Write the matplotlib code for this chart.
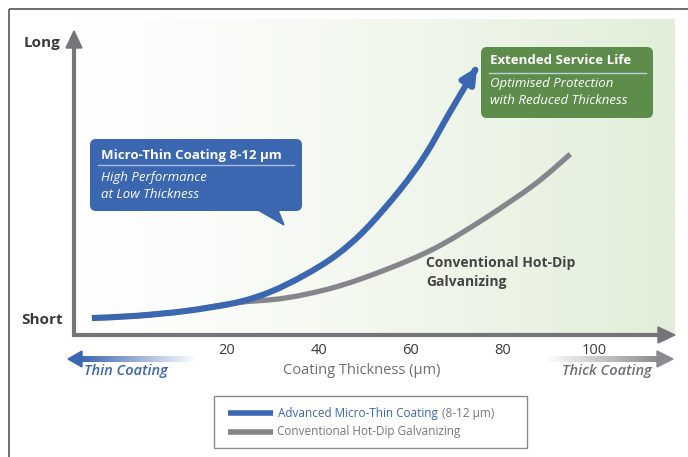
import matplotlib
matplotlib.use("Agg")
import matplotlib.pyplot as plt
import numpy as np
from matplotlib.patches import FancyBboxPatch, Polygon, Rectangle, FancyArrowPatch, PathPatch
from matplotlib.path import Path
from matplotlib.colors import to_rgb

plt.rcParams['font.family'] = ['Open Sans', 'DejaVu Sans']

# data (x: coating thickness in µm, y: relative service life)
blue_x = [-9.4, 0.0, 10.9, 21.8, 29.4, 36.6, 43.6, 50.1, 57.7, 63.2, 68.6, 73.0, 74.5]
blue_y = [5.6, 6.3, 7.9, 10.6, 14.2, 19.5, 26.1, 34.7, 47.9, 59.4, 73.6, 84.8, 88.4]
gray_x = [-9.4, 0.0, 10.9, 21.8, 32.7, 43.6, 54.5, 65.4, 76.3, 87.1, 94.8]
gray_y = [5.6, 6.3, 7.9, 10.6, 12.2, 15.8, 21.5, 28.7, 38.6, 49.8, 59.7]
x_ticks = [20, 40, 60, 80, 100]

BLUE = '#3b66b0'
GRAY = '#85868c'
AXIS = '#747479'
GREEN = '#5e8c4b'
DARK = '#3a3a3a'


def smooth_path(xs, ys):
    # Catmull-Rom curve through the points, drawn as cubic Bezier segments
    p = np.column_stack([xs, ys]).astype(float)
    ext = np.vstack([p[0], p, p[-1]])
    verts = [p[0]]
    codes = [Path.MOVETO]
    for i in range(1, len(ext) - 2):
        c1 = ext[i] + (ext[i + 1] - ext[i - 1]) / 6
        c2 = ext[i + 1] - (ext[i + 2] - ext[i]) / 6
        verts += [c1, c2, ext[i + 1]]
        codes += [Path.CURVE4] * 3
    return Path(np.array(verts), codes)


W, H = 688, 457
fig = plt.figure(figsize=(W / 100, H / 100), dpi=100)

# background overlay in pixel coordinates
bg = fig.add_axes([0, 0, 1, 1], zorder=0)
bg.axis('off')
bg.add_patch(Rectangle((9, 9), W, H, fill=False, edgecolor='#555555', lw=1.2))

# white -> light green gradient panel
grad = np.linspace(0, 1, 256) ** 1.2
c0 = np.array(to_rgb('#ffffff'))
c1 = np.array(to_rgb('#e2eed9'))
img = (c0[None, :] * (1 - grad[:, None]) + c1[None, :] * grad[:, None])[None, :, :]
bg.imshow(img, extent=(73, 675, 335, 19), aspect='auto', interpolation='bilinear')
bg.set_xlim(0, W)
bg.set_ylim(H, 0)

# main data axes
ax = fig.add_axes([74 / W, (H - 335) / H, (675 - 74) / W, (335 - 32) / H], zorder=1)
ax.patch.set_alpha(0)
ax.set_xlim(-13.3, 117.6)
ax.set_ylim(0, 100)
for s in ax.spines.values():
    s.set_visible(False)
ax.set_yticks([])
ax.set_xticks(x_ticks)
ax.tick_params(axis='x', length=0, pad=6, labelsize=10.5, labelcolor=DARK)

ax.add_patch(PathPatch(smooth_path(gray_x, gray_y), fill=False, edgecolor=GRAY,
                       lw=3.8, capstyle='butt', zorder=2))
ax.add_patch(FancyArrowPatch(path=smooth_path(blue_x, blue_y),
                             arrowstyle='-|>,head_length=9,head_width=4.5',
                             color=BLUE, lw=4.4, shrinkA=0, shrinkB=0,
                             capstyle='butt', zorder=3))

# foreground overlay in pixel coordinates
fg = fig.add_axes([0, 0, 1, 1], zorder=2)
fg.patch.set_alpha(0)
fg.axis('off')

# axis arrows
fg.plot([74, 74], [337, 46], color=AXIS, lw=3, solid_capstyle='butt')
fg.add_patch(Polygon([[66, 48], [82, 48], [74, 31]], closed=True, color=AXIS))
fg.plot([72, 660], [335, 335], color=AXIS, lw=3, solid_capstyle='butt')
fg.add_patch(Polygon([[658, 327], [658, 343], [675, 335]], closed=True, color=AXIS))

fg.text(60, 43, 'Long', ha='right', va='center', fontsize=11, fontweight='bold', color=DARK)
fg.text(63, 320, 'Short', ha='right', va='center', fontsize=11, fontweight='bold', color=DARK)


# gradient direction arrows under the axis
def grad_shaft(x0, x1, y, color, fade_right):
    a = np.linspace(1, 0, 200) if fade_right else np.linspace(0, 1, 200)
    rgba = np.zeros((1, 200, 4))
    rgba[..., :3] = to_rgb(color)
    rgba[..., 3] = a
    fg.imshow(rgba, extent=(x0, x1, y + 3, y - 3), aspect='auto', interpolation='bilinear')


grad_shaft(80, 197, 359, BLUE, True)
fg.add_patch(Polygon([[82, 351], [82, 367], [68, 359]], closed=True, color=BLUE))
grad_shaft(545, 659, 359, '#8a8b90', False)
fg.add_patch(Polygon([[657, 351], [657, 367], [673, 359]], closed=True, color='#8a8b90'))
fg.set_xlim(0, W)
fg.set_ylim(H, 0)

fg.text(84, 371, 'Thin Coating', ha='left', va='center', fontsize=10.5, style='italic',
        fontweight='semibold', color=BLUE)
fg.text(652, 371, 'Thick Coating', ha='right', va='center', fontsize=10.5, style='italic',
        fontweight='semibold', color='#707075')
fg.text(362, 371, 'Coating Thickness (µm)', ha='center', va='center', fontsize=10.5,
        color='#6e6e72')

# blue callout
fg.add_patch(FancyBboxPatch((90, 139), 212, 72, boxstyle='round,pad=0,rounding_size=6',
                            facecolor=BLUE, edgecolor='none'))
fg.add_patch(Polygon([[258, 210], [278, 210], [284, 225]], closed=True, color=BLUE))
fg.text(101, 155, 'Micro-Thin Coating 8-12 µm', ha='left', va='center', fontsize=9.5,
        fontweight='bold', color='white')
fg.plot([98, 294], [165, 165], color='#a9bde0', lw=1)
fg.text(101, 178, 'High Performance', ha='left', va='center', fontsize=9.5,
        style='italic', color='white')
fg.text(101, 195, 'at Low Thickness', ha='left', va='center', fontsize=9.5,
        style='italic', color='white')

# green callout
fg.add_patch(FancyBboxPatch((481, 47), 172, 71, boxstyle='round,pad=0,rounding_size=6',
                            facecolor=GREEN, edgecolor='none'))
fg.text(490, 61, 'Extended Service Life', ha='left', va='center', fontsize=9.5,
        fontweight='bold', color='white')
fg.plot([489, 646], [73, 73], color='#b8cfe0', lw=1)
fg.text(490, 84, 'Optimised Protection', ha='left', va='center', fontsize=9.5,
        style='italic', color='white')
fg.text(490, 101, 'with Reduced Thickness', ha='left', va='center', fontsize=9.5,
        style='italic', color='white')

fg.text(426, 263, 'Conventional Hot-Dip', ha='left', va='center', fontsize=10,
        fontweight='bold', color='#444444')
fg.text(426, 282, 'Galvanizing', ha='left', va='center', fontsize=10,
        fontweight='bold', color='#444444')

# legend
fg.add_patch(Rectangle((214, 396), 313, 52, fill=False, edgecolor='#8a8a8a', lw=1))
fg.plot([228, 273], [413, 413], color=BLUE, lw=4, solid_capstyle='butt')
fg.plot([228, 273], [432, 432], color=GRAY, lw=4, solid_capstyle='butt')
t = fg.text(278, 413, 'Advanced Micro-Thin Coating', ha='left', va='center', fontsize=8.5,
            color=BLUE)
fig.canvas.draw()
bb = t.get_window_extent().transformed(fg.transData.inverted())
fg.text(bb.x1 + 4, 413, '(8-12 µm)', ha='left', va='center', fontsize=8.5, color='#77777b')
fg.text(277, 432, 'Conventional Hot-Dip Galvanizing', ha='left', va='center', fontsize=8.5,
        color='#77777b')

fig.savefig('out.png', dpi=100)
